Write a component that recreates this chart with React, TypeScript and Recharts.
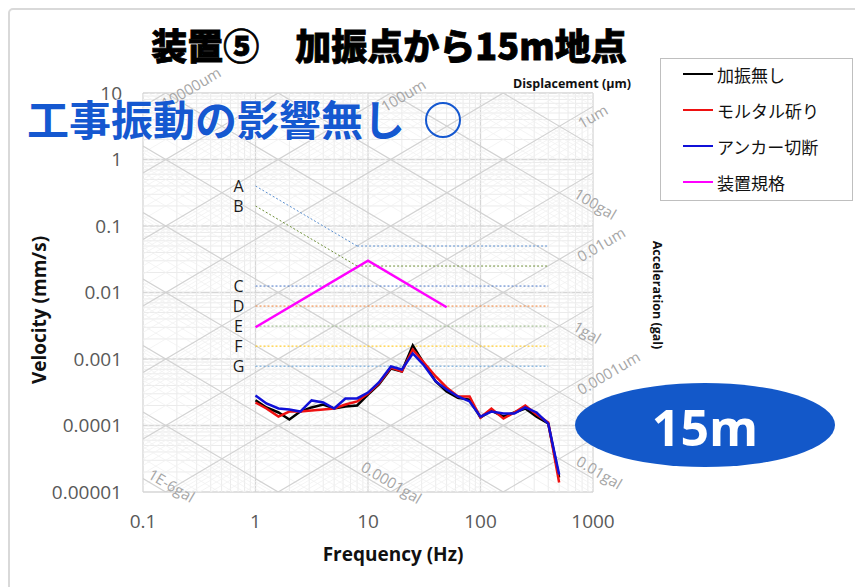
import React from "react";
import { LineChart, Line, XAxis, YAxis, CartesianGrid, ReferenceLine, ReferenceDot, Legend } from "recharts";

// 1/3 octave band centres (Hz)
const freqs = [1, 1.25, 1.6, 2, 2.5, 3.15, 4, 5, 6.3, 8, 10, 12.5, 16, 20, 25, 31.5, 40, 50, 63, 80, 100, 125, 160, 200, 250, 315, 400, 500];

// velocity (mm/s)
const noExcitation = [2.4e-4, 1.87e-4, 1.57e-4, 1.23e-4, 1.62e-4, 1.87e-4, 2.07e-4, 1.8e-4, 1.93e-4, 2.0e-4, 2.92e-4, 4.14e-4, 7.2e-4, 6.5e-4, 1.6e-3, 8.5e-4, 4.6e-4, 3.25e-4, 2.6e-4, 2.45e-4, 1.32e-4, 1.68e-4, 1.36e-4, 1.57e-4, 1.8e-4, 1.36e-4, 1.07e-4, 1.65e-5];
const mortar = [2.22e-4, 1.8e-4, 1.36e-4, 1.62e-4, 1.62e-4, 1.68e-4, 1.74e-4, 1.8e-4, 2.07e-4, 2.3e-4, 3.03e-4, 4.28e-4, 7.45e-4, 6.5e-4, 1.39e-3, 8.8e-4, 5.46e-4, 3.73e-4, 2.73e-4, 2.73e-4, 1.32e-4, 1.8e-4, 1.27e-4, 1.57e-4, 2.0e-4, 1.46e-4, 1.11e-4, 1.39e-5];
const anchorCut = [2.83e-4, 2.14e-4, 1.8e-4, 1.74e-4, 1.62e-4, 2.38e-4, 2.22e-4, 1.8e-4, 2.55e-4, 2.55e-4, 3.13e-4, 4.43e-4, 7.7e-4, 6.95e-4, 1.21e-3, 8.0e-4, 4.6e-4, 3.48e-4, 2.73e-4, 2.3e-4, 1.36e-4, 1.62e-4, 1.51e-4, 1.51e-4, 1.87e-4, 1.57e-4, 1.07e-4, 1.83e-5];

// 装置規格
const specFreqs = [1, 10, 50];
const specValues = [0.003, 0.03, 0.006];

const seriesNames = ["加振無し", "モルタル斫り", "アンカー切断", "装置規格"];

// VC style criteria
const criteriaNames = ["A", "B", "C", "D", "E", "F", "G"];
const criteriaStartV = [0.4, 0.2, 0.0125, 0.00625, 0.003125, 0.0015625, 0.00078];
const criteriaKnee = [8, 8, 1, 1, 1, 1, 1];
const criteriaLevel = [0.05, 0.025, 0.0125, 0.00625, 0.003125, 0.0015625, 0.00078];
const criteriaColors = ["#5b8fd0", "#6f8f3a", "#4472c4", "#ed7d31", "#8fb07a", "#ffc000", "#5b9bd5"];
const criteriaStartF = 1;
const criteriaEndF = 400;

const xTicks = [0.1, 1, 10, 100, 1000];
const yTicks = [0.00001, 0.0001, 0.001, 0.01, 0.1, 1, 10];

// tripartite grid
const dispDecades = [1e-5, 1e-4, 1e-3, 1e-2, 1e-1, 1, 10, 100, 1000, 10000]; // um
const accDecades = [1e-6, 1e-5, 1e-4, 1e-3, 1e-2, 1e-1, 1, 10, 100, 1000]; // gal
const minorMult = [2, 3, 4, 5, 6, 7, 8, 9];

const dispLabels = [
  { text: "10000um", d: 10000, f: 0.137 },
  { text: "100um", d: 100, f: 12.3 },
  { text: "1um", d: 1, f: 690 },
  { text: "0.01um", d: 0.01, f: 680 },
  { text: "0.0001um", d: 0.0001, f: 680 },
];
const accLabels = [
  { text: "100gal", a: 100, f: 640 },
  { text: "1gal", a: 1, f: 630 },
  { text: "0.01gal", a: 0.01, f: 670 },
  { text: "0.0001gal", a: 0.0001, f: 8.2 },
  { text: "1E-6gal", a: 0.000001, f: 0.105 },
];

const F_MIN = 0.1;
const F_MAX = 1000;
const dispV = (d: number, f: number) => (2 * Math.PI * f * d) / 1000;
const accV = (a: number, f: number) => (10 * a) / (2 * Math.PI * f);

const rows = freqs.map((f, i) => ({ f, none: noExcitation[i], mortar: mortar[i], anchor: anchorCut[i] }));
const specRows = specFreqs.map((f, i) => ({ f, spec: specValues[i] }));

const ANGLE = 30.6;
const latin = "'Open Sans', 'Noto Sans', sans-serif";
const jp = "'Noto Sans CJK JP', 'Noto Sans', sans-serif";

const diagLabel = (text: string, angle: number, dy: number) => (p: any) => (
  <text
    x={p.cx}
    y={p.cy}
    dy={dy}
    transform={`rotate(${angle} ${p.cx} ${p.cy})`}
    fill="#a6a6a6"
    fontSize={15}
    fontFamily={latin}
  >
    {text}
  </text>
);

const letterLabel = (text: string) => (p: any) => (
  <text x={p.cx - 17} y={p.cy} dy="0.35em" textAnchor="middle" fill="#1a1a1a" fontSize={16} fontFamily={latin}>
    {text}
  </text>
);

const renderLegend = (props: any) => {
  const items = [...(props.payload || [])].sort(
    (a: any, b: any) => seriesNames.indexOf(a.value) - seriesNames.indexOf(b.value)
  );
  return (
    <div
      style={{
        border: "1px solid #bfbfbf",
        width: 193,
        height: 143,
        boxSizing: "border-box",
        background: "#fff",
      }}
    >
      <div style={{ marginTop: -3 }}>
        {items.map((item: any) => (
          <div key={item.value} style={{ display: "flex", alignItems: "center", height: 36, paddingLeft: 22 }}>
            <span style={{ display: "inline-block", width: 30, height: 2.5, background: item.color, marginRight: 4 }} />
            <span style={{ fontSize: 17, fontFamily: jp, color: "#111" }}>{item.value}</span>
          </div>
        ))}
      </div>
    </div>
  );
};

export default function App() {
  return (
    <div style={{ position: "absolute", left: 0, top: 0, width: 855, height: 587, background: "#fff" }}>
      <LineChart width={855} height={587} data={rows} margin={{ top: 93, right: 262, bottom: 65, left: 63 }}>
        {minorMult.flatMap((m) =>
          [0.1, 1, 10, 100].map((k) => (
            <ReferenceLine key={`vx${m}-${k}`} x={m * k} stroke="#ebebeb" strokeWidth={1} />
          ))
        )}
        {minorMult.flatMap((m) =>
          [0.00001, 0.0001, 0.001, 0.01, 0.1, 1].map((k) => (
            <ReferenceLine key={`hy${m}-${k}`} y={m * k} stroke="#ebebeb" strokeWidth={1} />
          ))
        )}
        {dispDecades.flatMap((d) =>
          minorMult.map((m) => (
            <ReferenceLine
              key={`dm${d}-${m}`}
              ifOverflow="hidden"
              segment={[{ x: F_MIN, y: dispV(d * m, F_MIN) }, { x: F_MAX, y: dispV(d * m, F_MAX) }]}
              stroke="#f1f1f1"
              strokeWidth={0.8}
            />
          ))
        )}
        {accDecades.flatMap((a) =>
          minorMult.map((m) => (
            <ReferenceLine
              key={`am${a}-${m}`}
              ifOverflow="hidden"
              segment={[{ x: F_MIN, y: accV(a * m, F_MIN) }, { x: F_MAX, y: accV(a * m, F_MAX) }]}
              stroke="#f1f1f1"
              strokeWidth={0.8}
            />
          ))
        )}
        <CartesianGrid stroke="#d6d6d6" strokeWidth={1.3} />
        {dispDecades.map((d) => (
          <ReferenceLine
            key={`d${d}`}
            ifOverflow="hidden"
            segment={[{ x: F_MIN, y: dispV(d, F_MIN) }, { x: F_MAX, y: dispV(d, F_MAX) }]}
            stroke="#d2d2d2"
            strokeWidth={1.2}
          />
        ))}
        {accDecades.map((a) => (
          <ReferenceLine
            key={`a${a}`}
            ifOverflow="hidden"
            segment={[{ x: F_MIN, y: accV(a, F_MIN) }, { x: F_MAX, y: accV(a, F_MAX) }]}
            stroke="#d2d2d2"
            strokeWidth={1.2}
          />
        ))}
        <XAxis
          type="number"
          dataKey="f"
          scale="log"
          domain={[0.1, 1000]}
          ticks={xTicks}
          interval={0}
          allowDataOverflow
          axisLine={false}
          tickLine={false}
          height={30}
          tickSize={6}
          tickMargin={17}
          tickFormatter={(v: number) => String(v)}
          tick={{ fill: "#595959", fontSize: 19, fontFamily: latin }}
        />
        <YAxis
          type="number"
          scale="log"
          domain={[0.00001, 10]}
          ticks={yTicks}
          interval={0}
          allowDataOverflow
          axisLine={false}
          tickLine={false}
          width={80}
          tickSize={6}
          tickMargin={15}
          tickFormatter={(v: number) => String(v)}
          tick={{ fill: "#595959", fontSize: 19, fontFamily: latin }}
        />
        {dispLabels.map((l) => (
          <ReferenceDot
            key={l.text}
            x={l.f}
            y={dispV(l.d, l.f)}
            r={0}
            ifOverflow="visible"
            shape={diagLabel(l.text, -ANGLE, 14)}
          />
        ))}
        {accLabels.map((l) => (
          <ReferenceDot
            key={l.text}
            x={l.f}
            y={accV(l.a, l.f)}
            r={0}
            ifOverflow="visible"
            shape={diagLabel(l.text, ANGLE, -3)}
          />
        ))}
        {criteriaNames.map((name, i) =>
          criteriaKnee[i] > criteriaStartF ? (
            <ReferenceLine
              key={`cs${name}`}
              segment={[{ x: criteriaStartF, y: criteriaStartV[i] }, { x: criteriaKnee[i], y: criteriaLevel[i] }]}
              stroke={criteriaColors[i]}
              strokeWidth={1}
              strokeDasharray="2 2"
            />
          ) : null
        )}
        {criteriaNames.map((name, i) => (
          <ReferenceLine
            key={`cf${name}`}
            segment={[{ x: criteriaKnee[i], y: criteriaLevel[i] }, { x: criteriaEndF, y: criteriaLevel[i] }]}
            stroke={criteriaColors[i]}
            strokeWidth={1}
            strokeDasharray="2 2"
          />
        ))}
        {criteriaNames.map((name, i) => (
          <ReferenceDot
            key={`cl${name}`}
            x={criteriaStartF}
            y={criteriaStartV[i]}
            r={0}
            ifOverflow="visible"
            shape={letterLabel(name)}
          />
        ))}
        <Line name={seriesNames[0]} dataKey="none" stroke="#000000" strokeWidth={2.5} dot={false} isAnimationActive={false} />
        <Line name={seriesNames[1]} dataKey="mortar" stroke="#ee1111" strokeWidth={2.5} dot={false} isAnimationActive={false} />
        <Line name={seriesNames[2]} dataKey="anchor" stroke="#1010d8" strokeWidth={2.5} dot={false} isAnimationActive={false} />
        <Line name={seriesNames[3]} data={specRows} dataKey="spec" stroke="#ff00ff" strokeWidth={2.5} dot={false} isAnimationActive={false} />
        <Legend
          layout="vertical"
          align="center"
          verticalAlign="middle"
          content={renderLegend}
          wrapperStyle={{ left: 660, top: 58, width: 193, height: 143 }}
        />
      </LineChart>
      <svg
        width={855}
        height={587}
        style={{ position: "absolute", left: 0, top: 0, pointerEvents: "none" }}
      >
        <rect x={9} y={9} width={900} height={700} rx={4} fill="none" stroke="#d9d9d9" strokeWidth={2} />
        <text x={389} y={60} textAnchor="middle" fontSize={36} fontWeight={900} fontFamily={jp} fill="#000" stroke="#000" strokeWidth={0.8}>
          装置⑤　加振点から15m地点
        </text>
        <text x={27} y={136} fontSize={42} fontWeight={700} fontFamily={jp} fill="#1558d0" stroke="#ffffff" strokeWidth={1} paintOrder="stroke">
          工事振動の影響無し
        </text>
        <circle cx={443} cy={120} r={17} fill="none" stroke="#1558d0" strokeWidth={2} />
        <text x={513} y={88} fontSize={12.5} fontWeight={700} fontFamily={latin} fill="#111">
          Displacement (µm)
        </text>
        <text
          x={653}
          y={295}
          textAnchor="middle"
          transform="rotate(90 653 295)"
          fontSize={12.5}
          fontWeight={700}
          fontFamily={latin}
          fill="#111"
        >
          Acceleration (gal)
        </text>
        <text
          x={46}
          y={310}
          textAnchor="middle"
          transform="rotate(-90 46 310)"
          fontSize={19}
          fontWeight={700}
          fontFamily={latin}
          fill="#111"
        >
          Velocity (mm/s)
        </text>
        <text x={393} y={561} textAnchor="middle" fontSize={19} fontWeight={700} fontFamily={latin} fill="#111">
          Frequency (Hz)
        </text>
        <ellipse cx={705} cy={425} rx={130} ry={42} fill="#1358c9" />
        <text x={705} y={446} textAnchor="middle" fontSize={50} fontWeight={700} fontFamily={latin} fill="#ffffff">
          15m
        </text>
      </svg>
    </div>
  );
}
